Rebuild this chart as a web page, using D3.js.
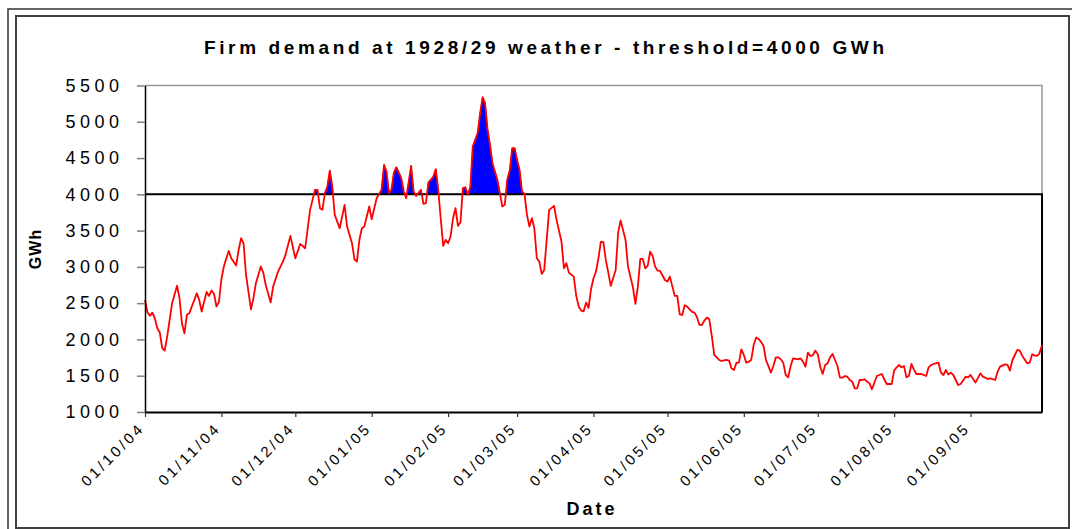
<!DOCTYPE html>
<html>
<head>
<meta charset="utf-8">
<script src="https://cdn.jsdelivr.net/npm/d3@7"></script>
<style>
  body { margin: 0; background: #fff; }
  svg { display: block; font-family: "Liberation Sans", Arial, sans-serif; }
</style>
</head>
<body>
<svg id="chart" width="1072" height="529"></svg>
<script>
// Daily firm demand, 1928/29 weather (day 0 = 01/10/04)
const dayOfSeason = [
    0, 1, 2, 3, 4, 5, 6, 7, 8, 9, 10, 11, 13, 14, 15, 16, 17, 18, 19, 21,
    22, 23, 24, 25, 26, 27, 28, 29, 30, 31, 32, 33, 34, 35, 37, 38, 39, 40, 41, 43,
    44, 45, 47, 48, 49, 51, 52, 54, 56, 57, 59, 61, 63, 65, 67, 69, 70, 71, 72, 73,
    74, 75, 76, 77, 79, 81, 82, 84, 85, 86, 87, 88, 89, 91, 92, 94, 96, 97, 98, 99,
    100, 101, 102, 104, 105, 106, 108, 109, 110, 112, 113, 114, 115, 117, 118, 119, 120, 121, 122, 123,
    124, 125, 126, 127, 128, 129, 130, 131, 132, 133, 134, 135, 136, 137, 138, 139, 140, 141, 143, 144,
    145, 146, 147, 148, 149, 150, 151, 152, 153, 154, 155, 156, 157, 158, 159, 160, 161, 162, 163, 164,
    166, 167, 169, 170, 171, 172, 174, 175, 176, 177, 178, 179, 180, 181, 182, 183, 184, 185, 186, 187,
    188, 189, 191, 192, 193, 195, 196, 198, 199, 200, 201, 202, 203, 204, 205, 206, 207, 208, 209, 211,
    212, 213, 214, 215, 216, 217, 218, 219, 220, 222, 223, 224, 225, 226, 227, 228, 229, 230, 231, 233,
    234, 236, 237, 238, 239, 240, 241, 242, 243, 244, 245, 246, 247, 248, 249, 250, 251, 252, 254, 255,
    256, 257, 258, 259, 260, 261, 262, 263, 265, 266, 267, 268, 269, 270, 271, 272, 273, 274, 275, 276,
    277, 278, 279, 281, 282, 283, 284, 285, 286, 287, 288, 289, 290, 291, 292, 293, 294, 295, 297, 298,
    299, 300, 301, 303, 304, 305, 306, 307, 308, 309, 310, 311, 312, 313, 315, 317, 318, 319, 320, 322,
    323, 324, 325, 326, 327, 328, 330, 331, 333, 334, 335, 337, 339, 340, 342, 343, 345, 346, 347, 349,
    350, 351, 352, 354, 355, 356, 358, 359, 360, 361, 362, 363, 364
];
const demandGWh = [
    2545, 2375, 2325, 2370, 2290, 2155, 2095, 1880, 1845, 2040, 2270, 2500, 2740, 2570, 2220, 2085, 2340, 2360, 2455, 2635,
    2545, 2385, 2520, 2655, 2600, 2675, 2630, 2455, 2515, 2830, 3005, 3120, 3220, 3120, 3020, 3235, 3395, 3325, 2890, 2415,
    2570, 2775, 3005, 2920, 2750, 2510, 2730, 2935, 3075, 3165, 3427, 3119, 3317, 3257, 3786, 4062, 4062, 3809, 3786, 4016,
    4108, 4328, 4108, 3717, 3533, 3855, 3556, 3326, 3105, 3073, 3372, 3533, 3556, 3832, 3657, 3947, 4062, 4406, 4314, 4016,
    4062, 4300, 4374, 4222, 4039, 3947, 4393, 4039, 3979, 4062, 3869, 3878, 4163, 4245, 4347, 4062, 3671, 3289, 3372, 3326,
    3418, 3671, 3809, 3565, 3611, 4085, 4098, 3993, 4098, 4659, 4751, 4843, 5119, 5340, 5257, 4900, 4682, 4429, 4200, 4016,
    3832, 3855, 4200, 4328, 4636, 4636, 4475, 4337, 4039, 4006, 3717, 3556, 3671, 3533, 3119, 3073, 2903, 2958, 3372, 3786,
    3841, 3648, 3349, 2981, 3050, 2921, 2866, 2600, 2453, 2397, 2388, 2508, 2434, 2692, 2843, 2935, 3119, 3349, 3340, 3096,
    2921, 2738, 2958, 3473, 3639, 3372, 3004, 2719, 2489, 2728, 3110, 3110, 2981, 3018, 3211, 3151, 3004, 2949, 2944, 2820,
    2797, 2866, 2728, 2600, 2600, 2347, 2338, 2471, 2453, 2379, 2370, 2306, 2200, 2200, 2260, 2301, 2278, 2048, 1786, 1717,
    1703, 1717, 1708, 1602, 1579, 1680, 1680, 1864, 1786, 1680, 1694, 1717, 1924, 2025, 2007, 1965, 1910, 1717, 1542, 1634,
    1754, 1754, 1726, 1680, 1510, 1478, 1634, 1740, 1726, 1740, 1694, 1625, 1818, 1772, 1781, 1846, 1800, 1625, 1524, 1648,
    1671, 1754, 1800, 1634, 1473, 1473, 1496, 1487, 1441, 1418, 1326, 1326, 1441, 1441, 1451, 1418, 1395, 1313, 1496, 1510,
    1524, 1451, 1386, 1386, 1570, 1616, 1648, 1616, 1634, 1478, 1496, 1662, 1588, 1524, 1524, 1496, 1616, 1648, 1662, 1680,
    1542, 1510, 1579, 1519, 1542, 1510, 1372, 1386, 1487, 1478, 1510, 1405, 1533, 1487, 1455, 1464, 1441, 1556, 1625, 1657,
    1648, 1570, 1717, 1855, 1846, 1772, 1671, 1680, 1795, 1781, 1772, 1809, 1924
];
const threshold = 4000;
const yTicks = [1000, 1500, 2000, 2500, 3000, 3500, 4000, 4500, 5000, 5500];
const xTickLabels = ["01/10/04", "01/11/04", "01/12/04", "01/01/05", "01/02/05", "01/03/05",
    "01/04/05", "01/05/05", "01/06/05", "01/07/05", "01/08/05", "01/09/05"];
const seasonStart = "01/10/04";
const seasonEnd = "30/09/05";

const parseDate = d3.utcParse("%d/%m/%y");
const start = parseDate(seasonStart);
const data = dayOfSeason.map((d, i) => ({ date: d3.utcDay.offset(start, d), v: demandGWh[i] }));

const svg = d3.select("#chart");
const plot = { left: 145, right: 1042, top: 85.5, bottom: 412 };

const x = d3.scaleUtc()
    .domain([start, parseDate(seasonEnd)])
    .range([plot.left, plot.right]);
const y = d3.scaleLinear()
    .domain([1000, 5500])
    .range([plot.bottom, plot.top]);

// chart frames (double line top/left)
svg.append("rect")
    .attr("x", 8).attr("y", 9)
    .attr("width", 1100).attr("height", 600)
    .attr("fill", "none").attr("stroke", "#333").attr("stroke-width", 1.5);
svg.append("rect")
    .attr("x", 16).attr("y", 16)
    .attr("width", 1053).attr("height", 512)
    .attr("fill", "#fff").attr("stroke", "#404040").attr("stroke-width", 2);

// plot area border
svg.append("path")
    .attr("d", `M${plot.left},${plot.top}H${plot.right}V${y(threshold)}`)
    .attr("fill", "none").attr("stroke", "#999").attr("stroke-width", 1.5);

svg.append("text")
    .attr("x", 544)
    .attr("y", 54)
    .attr("text-anchor", "middle")
    .attr("font-size", 19)
    .attr("font-weight", "bold")
    .attr("textLength", 680)
    .attr("lengthAdjust", "spacing")
    .text("Firm demand at 1928/29 weather - threshold=4000 GWh");

// blue fill above the threshold
svg.append("clipPath").attr("id", "above")
    .append("rect")
    .attr("x", plot.left).attr("y", plot.top)
    .attr("width", plot.right - plot.left)
    .attr("height", y(threshold) - plot.top);

svg.append("path")
    .datum(data)
    .attr("clip-path", "url(#above)")
    .attr("fill", "#0000ff")
    .attr("stroke", "#000")
    .attr("stroke-width", 0.8)
    .attr("d", d3.area()
        .x(d => x(d.date))
        .y0(y(threshold))
        .y1(d => y(d.v)));

// threshold line with its black right edge
const thresholdPts = [[start, threshold], [parseDate(seasonEnd), threshold], [parseDate(seasonEnd), 1000]];
svg.append("path")
    .attr("d", d3.line().x(d => x(d[0])).y(d => y(d[1]))(thresholdPts))
    .attr("fill", "none")
    .attr("stroke", "#000")
    .attr("stroke-width", 2);

svg.append("path")
    .datum(data)
    .attr("fill", "none")
    .attr("stroke", "#ff0000")
    .attr("stroke-width", 1.8)
    .attr("stroke-linejoin", "round")
    .attr("d", d3.line().x(d => x(d.date)).y(d => y(d.v)));

// y axis
const yAxis = svg.append("g")
    .attr("transform", `translate(${plot.left},0)`)
    .call(d3.axisLeft(y).tickValues(yTicks).tickFormat(d3.format("d")).tickSize(8).tickSizeOuter(0));
yAxis.select(".domain").attr("stroke", "#000").attr("stroke-width", 1.5);
yAxis.selectAll(".tick line").attr("stroke", "#808080").attr("stroke-width", 1.5);
yAxis.selectAll(".tick text")
    .attr("x", -21.5)
    .attr("font-size", 18)
    .attr("letter-spacing", "4.5px")
    .attr("fill", "#000")
    .attr("font-family", "Liberation Sans, Arial, sans-serif");

// x axis
const xAxis = svg.append("g")
    .attr("transform", `translate(0,${plot.bottom})`)
    .call(d3.axisBottom(x)
        .tickValues(xTickLabels.map(parseDate))
        .tickFormat(d3.utcFormat("%d/%m/%y"))
        .tickSize(5)
        .tickSizeOuter(0));
xAxis.select(".domain").attr("stroke", "#000").attr("stroke-width", 2);
xAxis.selectAll(".tick line").attr("stroke", "#333").attr("stroke-width", 1.2);
xAxis.selectAll(".tick text")
    .attr("y", null)
    .attr("dy", null)
    .attr("text-anchor", "end")
    .attr("transform", "translate(0,17) rotate(-45)")
    .attr("font-size", 15)
    .attr("letter-spacing", "3px")
    .attr("fill", "#000")
    .attr("font-family", "Liberation Sans, Arial, sans-serif");

svg.append("text")
    .attr("x", 592)
    .attr("y", 515)
    .attr("text-anchor", "middle")
    .attr("font-size", 18)
    .attr("font-weight", "bold")
    .attr("letter-spacing", "3px")
    .text("Date");

svg.append("text")
    .attr("transform", "translate(41,249) rotate(-90)")
    .attr("text-anchor", "middle")
    .attr("font-size", 16)
    .attr("font-weight", "bold")
    .attr("letter-spacing", "1px")
    .text("GWh");
</script>
</body>
</html>
